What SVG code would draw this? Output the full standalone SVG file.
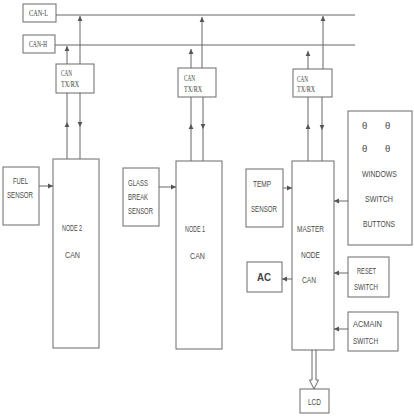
<svg xmlns="http://www.w3.org/2000/svg" width="414" height="420" viewBox="0 0 414 420">
<defs>
<marker id="ah" markerWidth="6" markerHeight="6" refX="5" refY="3" orient="auto" markerUnits="userSpaceOnUse">
<path d="M0,0.6 L5,3 L0,5.4 Z" fill="#555"/>
</marker>
</defs>
<style>
.box{fill:#fff;stroke:#777;stroke-width:1.1}
.ln{stroke:#666;stroke-width:1;fill:none}
.arr{stroke:#666;stroke-width:1;fill:none;marker-end:url(#ah)}
.t{font-family:"Liberation Sans",Arial,sans-serif;font-size:9.5px;fill:#4a4a4a}
.s{font-family:"Liberation Serif","Times New Roman",serif;font-size:8px;fill:#3a3a3a}
</style>
<rect width="414" height="420" fill="#fff"/>

<g id="can-l"><rect class="box" x="23" y="4" width="33" height="18"/><text class="s" x="29" y="16" textLength="19" lengthAdjust="spacingAndGlyphs">CAN-L</text></g>
<g id="can-h"><rect class="box" x="23" y="35" width="32" height="18"/><text class="s" x="29" y="47" textLength="18" lengthAdjust="spacingAndGlyphs">CAN-H</text></g>

<g id="txrx2"><rect class="box" x="56" y="64" width="38" height="29"/><text class="s" x="61" y="76" textLength="11" lengthAdjust="spacingAndGlyphs">CAN</text><text class="s" x="61" y="87" textLength="18" lengthAdjust="spacingAndGlyphs">TX/RX</text></g>
<g id="txrx1"><rect class="box" x="178" y="68" width="38" height="29"/><text class="s" x="184" y="81" textLength="11" lengthAdjust="spacingAndGlyphs">CAN</text><text class="s" x="184" y="92" textLength="18" lengthAdjust="spacingAndGlyphs">TX/RX</text></g>
<g id="txrxm"><rect class="box" x="293" y="69" width="39" height="28"/><text class="s" x="297" y="82" textLength="11" lengthAdjust="spacingAndGlyphs">CAN</text><text class="s" x="297" y="92" textLength="18" lengthAdjust="spacingAndGlyphs">TX/RX</text></g>

<g id="node2"><rect class="box" x="53" y="159" width="46" height="189"/><text class="t" x="62" y="231" textLength="20" lengthAdjust="spacingAndGlyphs">NODE 2</text><text class="t" x="65" y="258" textLength="15" lengthAdjust="spacingAndGlyphs">CAN</text></g>
<g id="node1"><rect class="box" x="176" y="161" width="46" height="188"/><text class="t" x="185" y="232" textLength="20" lengthAdjust="spacingAndGlyphs">NODE 1</text><text class="t" x="190" y="259" textLength="15" lengthAdjust="spacingAndGlyphs">CAN</text></g>
<g id="master"><rect class="box" x="292" y="161" width="42" height="189"/><text class="t" x="297" y="232" textLength="27" lengthAdjust="spacingAndGlyphs">MASTER</text><text class="t" x="301" y="258" textLength="19" lengthAdjust="spacingAndGlyphs">NODE</text><text class="t" x="302" y="283" textLength="14" lengthAdjust="spacingAndGlyphs">CAN</text></g>

<g id="fuel"><rect class="box" x="3" y="167" width="36" height="58"/><text class="t" x="13" y="184" textLength="15" lengthAdjust="spacingAndGlyphs">FUEL</text><text class="t" x="7" y="198" textLength="26" lengthAdjust="spacingAndGlyphs">SENSOR</text></g>
<g id="glass"><rect class="box" x="123" y="168" width="36" height="58"/><text class="t" x="128" y="186" textLength="20" lengthAdjust="spacingAndGlyphs">GLASS</text><text class="t" x="128" y="200" textLength="20" lengthAdjust="spacingAndGlyphs">BREAK</text><text class="t" x="128" y="214" textLength="25" lengthAdjust="spacingAndGlyphs">SENSOR</text></g>
<g id="temp"><rect class="box" x="246" y="169" width="37" height="58"/><text class="t" x="253" y="187" textLength="18" lengthAdjust="spacingAndGlyphs">TEMP</text><text class="t" x="251" y="212" textLength="26" lengthAdjust="spacingAndGlyphs">SENSOR</text></g>
<g id="windows"><rect class="box" x="348" y="111" width="64" height="134"/>
<text class="t" x="362" y="129">θ</text><text class="t" x="385" y="129">θ</text>
<text class="t" x="362" y="152">θ</text><text class="t" x="385" y="152">θ</text>
<text class="t" x="362" y="177" textLength="35" lengthAdjust="spacingAndGlyphs">WINDOWS</text><text class="t" x="365" y="202" textLength="28" lengthAdjust="spacingAndGlyphs">SWITCH</text><text class="t" x="363" y="227" textLength="32" lengthAdjust="spacingAndGlyphs">BUTTONS</text></g>
<g id="reset"><rect class="box" x="348" y="257" width="41" height="40"/><text class="t" x="357" y="274" textLength="19" lengthAdjust="spacingAndGlyphs">RESET</text><text class="t" x="354" y="290" textLength="24" lengthAdjust="spacingAndGlyphs">SWITCH</text></g>
<g id="ac"><rect class="box" x="247" y="262" width="35" height="30"/><text x="257" y="281" font-family="Liberation Sans,Arial,sans-serif" font-size="11" font-weight="bold" fill="#444" textLength="14" lengthAdjust="spacingAndGlyphs">AC</text></g>
<g id="acmain"><rect class="box" x="348" y="312" width="50" height="39"/><text class="t" x="353" y="327" textLength="29" lengthAdjust="spacingAndGlyphs">ACMAIN</text><text class="t" x="353" y="344" textLength="25" lengthAdjust="spacingAndGlyphs">SWITCH</text></g>
<g id="lcd"><rect class="box" x="300" y="389" width="29" height="24"/><text class="t" x="308" y="405" textLength="13" lengthAdjust="spacingAndGlyphs">LCD</text></g>

<g id="connectors">
<line class="ln" x1="56" y1="15" x2="355" y2="15"/>
<line class="ln" x1="55" y1="45" x2="355" y2="45"/>
<line class="arr" x1="67" y1="64" x2="67" y2="46"/>
<line class="arr" x1="80" y1="64" x2="80" y2="16"/>
<line class="arr" x1="67" y1="159" x2="67" y2="122"/><line class="ln" x1="67" y1="122" x2="67" y2="93"/>
<line class="arr" x1="80" y1="93" x2="80" y2="127"/><line class="ln" x1="80" y1="127" x2="80" y2="159"/>
<line class="arr" x1="191" y1="68" x2="191" y2="49"/>
<line class="arr" x1="202" y1="68" x2="202" y2="17"/>
<line class="arr" x1="191" y1="161" x2="191" y2="124"/><line class="ln" x1="191" y1="124" x2="191" y2="97"/>
<line class="arr" x1="203" y1="97" x2="203" y2="129"/><line class="ln" x1="203" y1="129" x2="203" y2="161"/>
<line class="arr" x1="308" y1="69" x2="308" y2="51"/>
<line class="arr" x1="323" y1="69" x2="323" y2="16"/>
<line class="arr" x1="308" y1="161" x2="308" y2="124"/><line class="ln" x1="308" y1="124" x2="308" y2="97"/>
<line class="arr" x1="322" y1="97" x2="322" y2="130"/><line class="ln" x1="322" y1="130" x2="322" y2="161"/>
<line class="arr" x1="39" y1="186" x2="53" y2="186"/>
<line class="arr" x1="159" y1="187" x2="176" y2="187"/>
<line class="arr" x1="283" y1="188" x2="292" y2="188"/>
<line class="arr" x1="348" y1="201" x2="334" y2="201"/>
<line class="arr" x1="348" y1="273" x2="334" y2="273"/>
<line class="arr" x1="292" y1="279" x2="282" y2="279"/>
<line class="arr" x1="348" y1="329" x2="334" y2="329"/>
<path class="ln" d="M312,350 L312,380 L309.5,380 L314,389 L318.5,380 L316,380 L316,350"/>
</g>
</svg>
